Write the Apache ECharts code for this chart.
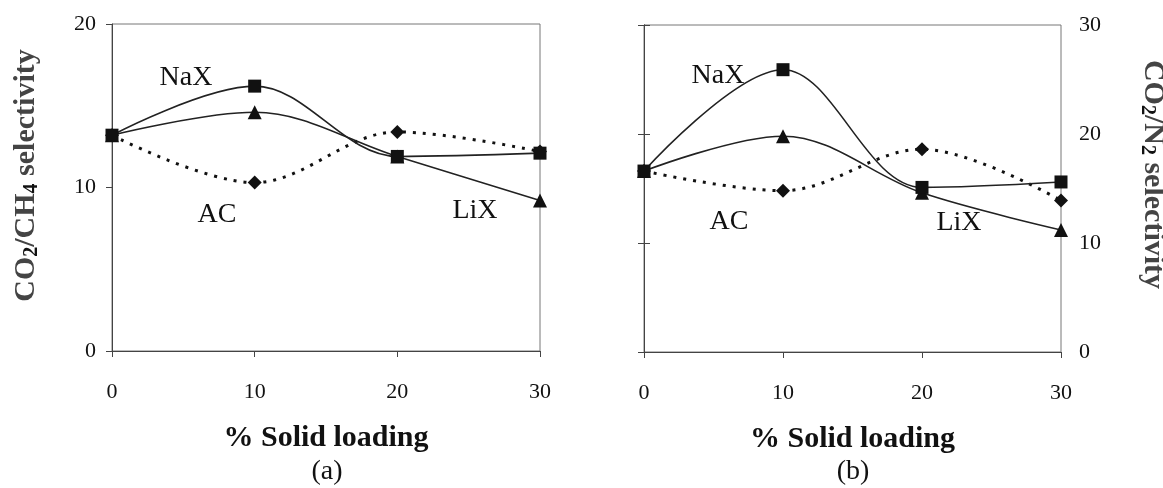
<!DOCTYPE html>
<html>
<head>
<meta charset="utf-8">
<script src="https://cdn.jsdelivr.net/npm/echarts@6/dist/echarts.min.js"></script>
<style>
html,body{margin:0;padding:0;background:#fff;}
#c{width:1163px;height:488px;}
</style>
</head>
<body>
<div id="c"></div>
<script>
// x values (% solid loading)
const xVals = [0, 10, 20, 30];
// Panel (a): CO2/CH4 selectivity
const naxA = [13.2, 16.2, 11.9, 12.1];
const lixA = [13.2, 14.6, 11.9, 9.2];
const acA  = [13.2, 10.3, 13.4, 12.2];
// Panel (b): CO2/N2 selectivity
const naxB = [16.6, 25.9, 15.1, 15.6];
const lixB = [16.6, 19.8, 14.6, 11.2];
const acB  = [16.6, 14.8, 18.6, 13.9];
// tick settings
const yTicksA = {min: 0, max: 20, interval: 10};
const yTicksB = {min: 0, max: 30, interval: 10};
const xTicks = {min: 0, max: 30, interval: 10};

const FONT = '"Liberation Serif","Times New Roman",serif';
const AX = '#444';

function pairs(v){ return xVals.map((x,i)=>[x, v[i]]); }

const nameRich = {
  b: {fontFamily: FONT, fontSize: 30, fontWeight: 'bold', color: '#111'},
  s: {fontFamily: FONT, fontSize: 20, fontWeight: 'bold', color: '#111', padding: [12,0,0,0], verticalAlign: 'bottom'}
};

function xAxis(gi){
  return {
    type: 'value', gridIndex: gi, min: xTicks.min, max: xTicks.max, interval: xTicks.interval,
    axisLine: {show: true, lineStyle: {color: AX, width: 1}},
    axisTick: {show: true, inside: false, length: 6, lineStyle: {color: AX}},
    axisLabel: {fontFamily: FONT, fontSize: 22, color: '#111', margin: 30},
    splitLine: {show: false},
    name: '% Solid loading', nameLocation: 'middle', nameGap: 72,
    nameTextStyle: {fontFamily: FONT, fontSize: 30, fontWeight: 'bold', color: '#111'}
  };
}

function series(name, gi, yi, data, symbol, dotted, z){
  return {
    name: name, type: 'line', xAxisIndex: gi, yAxisIndex: yi, data: pairs(data),
    smooth: 0.35, symbol: symbol, symbolSize: symbol === 'rect' ? 13 : 14,
    showSymbol: true, z: z,
    itemStyle: {color: '#111'},
    lineStyle: dotted ? {color: '#111', width: 3, type: [3, 7]} : {color: '#222', width: 1.6},
    animation: false
  };
}

function lbl(text, x, y){
  return {type: 'text', x: x, y: y, style: {text: text, font: '28px ' + FONT, fill: '#111', textAlign: 'center', textVerticalAlign: 'middle'}};
}

const chart = echarts.init(document.getElementById('c'), null, {renderer: 'canvas'});
chart.setOption({
  backgroundColor: '#fff',
  animation: false,
  grid: [
    {left: 112, right: 623, top: 24, bottom: 137, show: true, borderColor: '#777', borderWidth: 1, backgroundColor: 'transparent', containLabel: false, outerBoundsMode: 'none'},
    {left: 644, right: 102, top: 25, bottom: 136, show: true, borderColor: '#777', borderWidth: 1, backgroundColor: 'transparent', containLabel: false, outerBoundsMode: 'none'}
  ],
  xAxis: [xAxis(0), xAxis(1)],
  yAxis: [
    {
      type: 'value', gridIndex: 0, position: 'left', min: yTicksA.min, max: yTicksA.max, interval: yTicksA.interval,
      axisLine: {show: true, lineStyle: {color: AX}},
      axisTick: {show: true, length: 6, lineStyle: {color: AX}},
      axisLabel: {fontFamily: FONT, fontSize: 22, color: '#111', margin: 16},
      splitLine: {show: false},
      name: 'CO{s|2}/CH{s|4} selectivity', nameLocation: 'middle', nameGap: 70, nameRotate: 90,
      nameTextStyle: {rich: nameRich, fontFamily: FONT, fontSize: 30, fontWeight: 'bold', padding: [0, 0, 0, 24]}
    },
    {
      type: 'value', gridIndex: 1, position: 'right', min: yTicksB.min, max: yTicksB.max, interval: yTicksB.interval,
      axisLine: {show: true, lineStyle: {color: AX}},
      axisTick: {show: true, length: 6, lineStyle: {color: AX}},
      axisLabel: {fontFamily: FONT, fontSize: 22, color: '#111', margin: 18},
      splitLine: {show: false},
      name: 'CO{s|2}/N{s|2} selectivity', nameLocation: 'middle', nameGap: 76, nameRotate: -90,
      nameTextStyle: {rich: nameRich, fontFamily: FONT, fontSize: 30, fontWeight: 'bold', padding: [0, 28, 0, 0]}
    },
    {
      type: 'value', gridIndex: 1, position: 'left', min: yTicksB.min, max: yTicksB.max, interval: yTicksB.interval,
      axisLine: {show: true, lineStyle: {color: AX}},
      axisTick: {show: true, length: 6, lineStyle: {color: AX}},
      axisLabel: {show: false},
      splitLine: {show: false}
    }
  ],
  series: [
    series('AC', 0, 0, acA, 'diamond', true, 2),
    series('LiX', 0, 0, lixA, 'triangle', false, 3),
    series('NaX', 0, 0, naxA, 'rect', false, 4),
    series('AC', 1, 1, acB, 'diamond', true, 2),
    series('LiX', 1, 1, lixB, 'triangle', false, 3),
    series('NaX', 1, 1, naxB, 'rect', false, 4)
  ],
  graphic: [
    lbl('NaX', 186, 78),
    lbl('AC', 217, 215),
    lbl('LiX', 475, 211),
    lbl('NaX', 718, 76),
    lbl('AC', 729, 222),
    lbl('LiX', 959, 223),
    lbl('(a)', 327, 472),
    lbl('(b)', 853, 472)
  ]
});
</script>
</body>
</html>
